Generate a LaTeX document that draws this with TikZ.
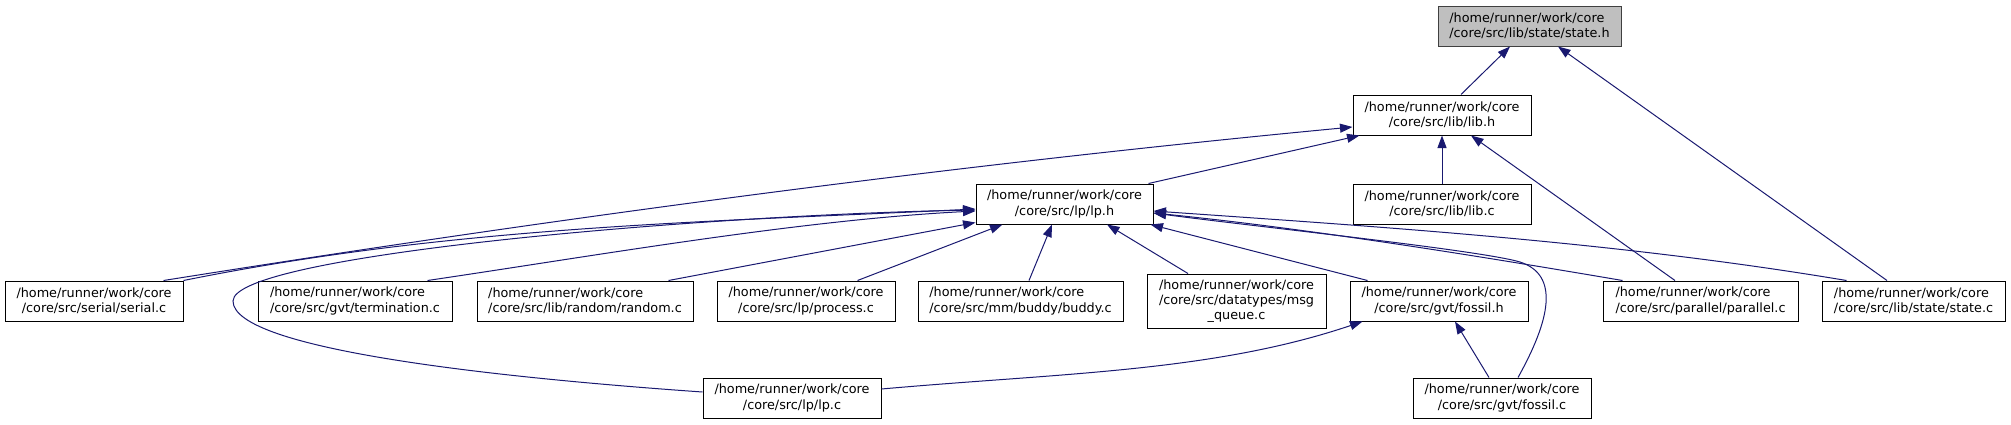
\documentclass[tikz,border=0pt]{standalone}
\usepackage{fontspec}
\setmainfont{DejaVu Sans}
\usetikzlibrary{arrows.meta}
\definecolor{edgeblue}{HTML}{191970}
\definecolor{rootgray}{HTML}{BFBFBF}
\definecolor{rootborder}{HTML}{404040}
\newlength\hdla
\newlength\hdlb
\newcommand\plab[1]{\settowidth\hdla{/home/runner/work/core}\settowidth\hdlb{#1}%
  \ifdim\hdlb>\hdla\makebox[\hdlb][l]{/home/runner/work/core}\else/home/runner/work/core\fi\\#1}
\tikzset{
  box/.style={draw=black, line width=1pt, fill=white, inner sep=0pt, align=center,
    font=\fontsize{12.8}{15.3}\selectfont, minimum height=40pt},
  rootbox/.style={box, fill=rootgray, draw=rootborder},
  edge/.style={draw=edgeblue, line width=1pt, -{Triangle[length=12.5pt,width=9pt]}}
}
\begin{document}
\begin{tikzpicture}[x=1pt,y=1pt]
\useasboundingbox (0,0) rectangle (2011,-424);
% nodes
\node[rootbox, minimum width=183pt] (stateh) at (1529.5,-26) {\plab{/core/src/lib/state/state.h}};
\node[box, minimum width=178pt] (libh) at (1442,-115) {\plab{/core/src/lib/lib.h}};
\node[box, minimum width=177pt] (lph) at (1064.5,-204) {\plab{/core/src/lp/lp.h}};
\node[box, minimum width=178pt] (libc) at (1442,-204) {\plab{/core/src/lib/lib.c}};
\node[box, minimum width=178pt] (serialc) at (94,-301) {\plab{/core/src/serial/serial.c}};
\node[box, minimum width=194pt] (termc) at (355,-301) {\plab{/core/src/gvt/termination.c}};
\node[box, minimum width=216pt] (randomc) at (585,-301) {\plab{/core/src/lib/random/random.c}};
\node[box, minimum width=178pt] (processc) at (806,-301) {\plab{/core/src/lp/process.c}};
\node[box, minimum width=205pt] (buddyc) at (1020.5,-301) {\plab{/core/src/mm/buddy/buddy.c}};
\node[box, minimum width=179pt, minimum height=54pt] (msgq) at (1236.5,-301) {/home/runner/work/core\\/core/src/datatypes/msg\\\_queue.c};
\node[box, minimum width=178pt] (fossilh) at (1439,-301) {\plab{/core/src/gvt/fossil.h}};
\node[box, minimum width=195pt] (parallelc) at (1700.5,-301) {\plab{/core/src/parallel/parallel.c}};
\node[box, minimum width=183pt] (statec) at (1913.5,-301) {\plab{/core/src/lib/state/state.c}};
\node[box, minimum width=178pt] (lpc) at (792,-398) {\plab{/core/src/lp/lp.c}};
\node[box, minimum width=178pt] (fossilc) at (1502,-398) {\plab{/core/src/gvt/fossil.c}};
\coordinate (fcm) at (1520,-262);
\coordinate (lpm) at (233,-301);
% edges
\draw[edge] ([xshift=19pt]libh.north) -- ([xshift=-19.5pt]stateh.south);
\draw[edge] ([xshift=-26.5pt]statec.north) -- ([xshift=28.5pt]stateh.south);
\draw[edge] ([xshift=-5pt]lph.north east) -- ([xshift=7pt]libh.south west);
\draw[edge] ([xshift=-20pt]serialc.north east) .. controls (563,-217) and (953,-165) .. ([yshift=-12pt]libh.west);
\draw[edge] (libc.north) -- (libh.south);
\draw[edge] ([xshift=-25.5pt]parallelc.north) -- ([xshift=29pt]libh.south);
\draw[edge] (serialc.north east) .. controls (453,-226) and (706,-222) .. ([yshift=-5pt]lph.west);
\draw[edge] ([xshift=-25pt]termc.north east) .. controls (600,-255) and (800,-220) .. ([yshift=-7pt]lph.west);
\draw[edge] ([xshift=-25pt]randomc.north east) -- ([yshift=2pt]lph.south west);
\draw[edge] ([xshift=-38pt]processc.north east) -- ([xshift=27pt]lph.south west);
\draw[edge] ([xshift=8.5pt]buddyc.north) -- ([xshift=-12.5pt]lph.south);
\draw[edge] ([xshift=-48.5pt]msgq.north) -- ([xshift=42.5pt]lph.south);
\draw[edge] ([xshift=18pt]fossilh.north west) -- ([xshift=-3pt]lph.south east);
\draw[edge] ([xshift=20pt]parallelc.north west) .. controls (1473,-255) and (1303,-228) .. ([yshift=-9pt]lph.east);
\draw[edge] ([xshift=25pt]statec.north west) .. controls (1617,-242) and (1383,-227) .. ([yshift=-7pt]lph.east);
\draw[edge] ([xshift=16pt]fossilc.north) .. controls (1550,-320) and (1560,-275) .. (fcm)
  .. controls (1480,-250) and (1250,-226) .. ([yshift=-9pt]lph.east);
\draw[edge] ([yshift=6pt]lpc.west) .. controls (503,-378) and (233,-350) .. (lpm)
  .. controls (233,-255) and (700,-215) .. ([yshift=-6pt]lph.west);
\draw[edge] ([yshift=9pt]lpc.east) .. controls (1061,-373) and (1213,-372) .. ([xshift=13pt]fossilh.south west);
\draw[edge] ([xshift=-13pt]fossilc.north) -- ([xshift=16pt]fossilh.south);
\end{tikzpicture}
\end{document}
